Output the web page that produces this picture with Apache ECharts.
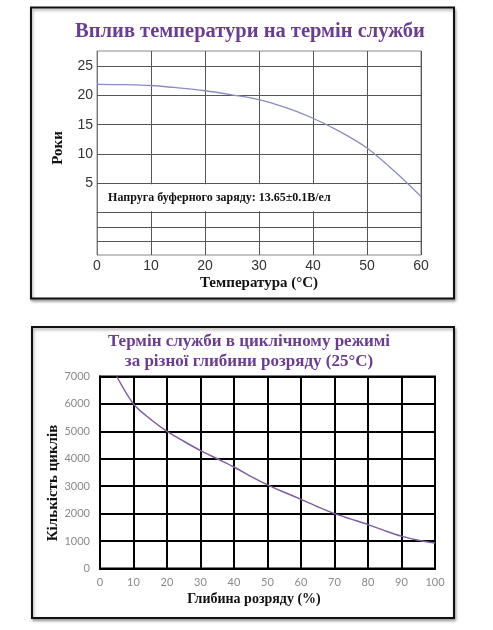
<!DOCTYPE html>
<html>
<head>
<meta charset="utf-8">
<script src="https://cdn.jsdelivr.net/npm/echarts@6/dist/echarts.min.js"></script>
<style>
html,body{margin:0;padding:0;background:#fff;}
#chart{width:493px;height:630px;}
</style>
</head>
<body>
<div id="chart"></div>
<script>
// ---- Chart 1: temperature vs service life ----
const title1 = 'Вплив температури на термін служби';
const tempC = [0, 5, 10, 15, 20, 25, 30, 35, 40, 45, 50, 55, 60];
const years = [21.9, 21.85, 21.7, 21.3, 20.8, 20.1, 19.3, 17.9, 16.1, 13.8, 11.0, 7.1, 2.7];
const yTicks1 = [5, 10, 15, 20, 25];
const hLines1 = [25, 20, 15, 10, 5, 0, -2.5, -5];
const note1 = 'Напруга буферного заряду: 13.65±0.1В/ел';
const xName1 = 'Температура (°C)';
const yName1 = 'Роки';

// ---- Chart 2: cycle life vs depth of discharge ----
const title2a = 'Термін служби в циклічному режимі';
const title2b = 'за різної глибини розряду (25°C)';
const dod = [5, 10, 15, 20, 25, 30, 35, 40, 45, 50, 55, 60, 65, 70, 75, 80, 85, 90, 95, 100];
const cycles = [7000, 6000, 5450, 5000, 4640, 4300, 4000, 3700, 3360, 3050, 2780, 2520, 2250, 2000, 1800, 1600, 1380, 1180, 1030, 930];
const xName2 = 'Глибина розряду (%)';
const yName2 = 'Кількість циклів';

const purple = '#6b3d92';
const serif = '"Liberation Serif","Times New Roman",serif';

const chart = echarts.init(document.getElementById('chart'), null, {renderer: 'canvas'});

const boxStyle = {
  fill: '#fff', stroke: '#111', lineWidth: 2,
  shadowBlur: 3, shadowColor: 'rgba(0,0,0,0.35)', shadowOffsetX: 1, shadowOffsetY: 2
};

const option = {
  backgroundColor: '#fff',
  animation: false,
  graphic: [
    {type: 'rect', z: -10, shape: {x: 31, y: 7.5, width: 423, height: 291}, style: boxStyle},
    {type: 'rect', z: -10, shape: {x: 32, y: 327, width: 422, height: 291}, style: boxStyle},
    {type: 'text', x: 250, y: 32, style: {text: title1, align: 'center', verticalAlign: 'middle',
      font: 'bold 20.5px ' + serif, fill: purple}},
    {type: 'text', x: 58, y: 148, rotation: Math.PI / 2, style: {text: yName1, align: 'center', verticalAlign: 'middle',
      font: 'bold 15px ' + serif, fill: '#111'}},
    {type: 'text', x: 259, y: 283, style: {text: xName1, align: 'center', verticalAlign: 'middle',
      font: 'bold 15px ' + serif, fill: '#111'}},
    {type: 'text', x: 249, y: 342, style: {text: title2a, align: 'center', verticalAlign: 'middle',
      font: 'bold 17px ' + serif, fill: purple}},
    {type: 'text', x: 249, y: 362, style: {text: title2b, align: 'center', verticalAlign: 'middle',
      font: 'bold 17px ' + serif, fill: purple}},
    {type: 'text', x: 53, y: 483, rotation: Math.PI / 2, style: {text: yName2, align: 'center', verticalAlign: 'middle',
      font: 'bold 15px ' + serif, fill: '#111'}},
    {type: 'text', x: 254, y: 599, style: {text: xName2, align: 'center', verticalAlign: 'middle',
      font: 'bold 14px ' + serif, fill: '#111'}}
  ],
  grid: [
    {left: 97, top: 51, width: 324, height: 204, show: true, borderColor: '#888', borderWidth: 1, backgroundColor: 'transparent'},
    {left: 100, top: 376.5, width: 335, height: 192, show: true, borderColor: '#000', borderWidth: 2, backgroundColor: 'transparent'}
  ],
  xAxis: [
    {
      gridIndex: 0, type: 'value', min: 0, max: 60, interval: 10,
      axisLine: {show: true, lineStyle: {color: '#777', width: 1}},
      axisTick: {show: false},
      axisLabel: {color: '#333', fontSize: 14, fontFamily: '"Liberation Sans",Arial,sans-serif', margin: 4},
      splitLine: {show: true, lineStyle: {color: '#555', width: 1}}
    },
    {
      gridIndex: 1, type: 'value', min: 0, max: 100, interval: 10,
      axisLine: {show: true, lineStyle: {color: '#000', width: 2}},
      axisTick: {show: false},
      axisLabel: {color: '#8a8a8a', fontSize: 11, fontFamily: 'Lato,"Open Sans",sans-serif', margin: 8},
      splitLine: {show: true, lineStyle: {color: '#000', width: 2}}
    }
  ],
  yAxis: [
    {
      gridIndex: 0, type: 'value', min: -7.3, max: 27.6,
      axisLine: {show: true, lineStyle: {color: '#777', width: 1}},
      axisTick: {show: false},
      axisLabel: {color: '#333', fontSize: 14, fontFamily: '"Liberation Sans",Arial,sans-serif', margin: 4,
        customValues: yTicks1},
      splitLine: {show: false}
    },
    {
      gridIndex: 1, type: 'value', min: 0, max: 7000, interval: 1000,
      axisLine: {show: true, lineStyle: {color: '#000', width: 2}},
      axisTick: {show: false},
      axisLabel: {color: '#8a8a8a', fontSize: 11, fontFamily: 'Lato,"Open Sans",sans-serif', margin: 10,
        formatter: v => String(v)},
      splitLine: {show: true, lineStyle: {color: '#000', width: 2}}
    }
  ],
  series: [
    {
      type: 'line', xAxisIndex: 0, yAxisIndex: 0, smooth: 0.3, symbol: 'none',
      data: tempC.map((t, i) => [t, years[i]]),
      lineStyle: {color: '#8a8cc0', width: 1.3},
      z: 5,
      markLine: {
        silent: true, symbol: 'none', label: {show: false},
        lineStyle: {color: '#555', width: 1, type: 'solid'},
        data: hLines1.map(v => ({yAxis: v}))
      },
      markArea: {
        silent: true,
        itemStyle: {color: '#fff'},
        label: {show: true, position: 'insideLeft', distance: 10, color: '#111',
          fontFamily: serif, fontWeight: 'bold', fontSize: 12},
        data: [[{coord: [0.2, 0.2], name: note1}, {coord: [49.8, 4.8]}]]
      }
    },
    {
      type: 'line', xAxisIndex: 1, yAxisIndex: 1, smooth: 0.3, symbol: 'none',
      data: dod.map((d, i) => [d, cycles[i]]),
      lineStyle: {color: '#7d5fa0', width: 1.5},
      z: 5
    }
  ]
};
chart.setOption(option);
</script>
</body>
</html>
